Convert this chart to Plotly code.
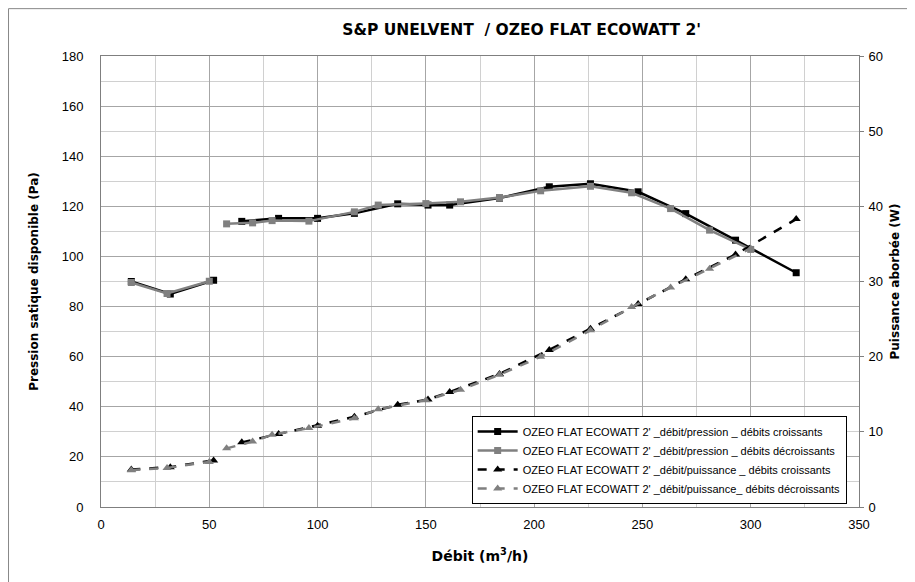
import plotly.graph_objects as go

# Débits croissants
debit_crois = [14, 32, 52, 58, 65, 82, 100, 117, 137, 151, 161, 184, 207, 226, 248, 270, 293, 321]
pression_crois = [90, 85, 90.5, None, 114, 115.2, 115.2, 117.2, 121, 120.5, 120.5, 123.3, 127.8,
                  129, 125.8, 117.1, 106.5, 93.5]
puissance_crois = [5.0, 5.3, 6.2, None, 8.6, 9.7, 10.8, 12.0, 13.6, 14.3, 15.3, 17.7, 20.9,
                   23.7, 27.0, 30.3, 33.6, 38.3]

# Débits décroissants
debit_decrois = [14, 30.5, 50, 54, 58, 70, 79, 96, 117, 128, 150, 166, 184, 203, 226, 245, 263, 281, 300]
pression_decrois = [89.6, 85.2, 90.1, None, 113.0, 113.4, 114.3, 114.1, 117.8, 120.5, 121.1, 121.8,
                    123.5, 126.2, 128.0, 125.4, 119.1, 110.5, 102.8]
puissance_decrois = [4.9, 5.2, 6.0, None, 7.8, 8.7, 9.6, 10.5, 11.8, 13.0, 14.2, 15.6, 17.6,
                     20.0, 23.5, 26.6, 29.2, 31.7, 34.4]

noms = ["OZEO FLAT ECOWATT 2' _débit/pression _ débits croissants",
        "OZEO FLAT ECOWATT 2' _débit/pression _ débits décroissants",
        "OZEO FLAT ECOWATT 2' _débit/puissance _ débits croissants",
        "OZEO FLAT ECOWATT 2' _débit/puissance_ débits décroissants"]

black = "#000000"
gray = "#808080"
verdana = "DejaVu Sans"
calibri = "Liberation Sans"

fig = go.Figure()

fig.add_trace(go.Scatter(x=debit_crois, y=pression_crois, name=noms[0], mode="lines+markers",
                         line=dict(color=black, width=2.5),
                         marker=dict(symbol="square", size=7, color=black)))
fig.add_trace(go.Scatter(x=debit_decrois, y=pression_decrois, name=noms[1], mode="lines+markers",
                         line=dict(color=gray, width=2.5),
                         marker=dict(symbol="square", size=7, color=gray)))
fig.add_trace(go.Scatter(x=debit_crois, y=puissance_crois, name=noms[2], mode="lines+markers",
                         yaxis="y2", line=dict(color=black, width=2.5, dash="dash"),
                         marker=dict(symbol="triangle-up", size=8, color=black)))
fig.add_trace(go.Scatter(x=debit_decrois, y=puissance_decrois, name=noms[3], mode="lines+markers",
                         yaxis="y2", line=dict(color=gray, width=2.5, dash="dash"),
                         marker=dict(symbol="triangle-up", size=8, color=gray)))

# Outer chart frame (Excel style)
fig.add_shape(type="rect", xref="paper", yref="paper",
              x0=-0.122, x1=1.067, y0=-0.25, y1=1.105,
              line=dict(color="#888888", width=1), layer="below")

# The page body adds ~8px, so the figure is a bit smaller than the window
fig.update_layout(
    width=907, height=574,
    margin=dict(l=93, r=56, t=48, b=75, autoexpand=False),
    paper_bgcolor="white", plot_bgcolor="white",
    title=dict(text="<b>S&P UNELVENT  / OZEO FLAT ECOWATT 2'</b>",
               x=0.555, xref="paper", xanchor="center",
               y=0.962, yref="container", yanchor="middle",
               font=dict(family=verdana, size=15.5, color=black)),
    showlegend=True,
    legend=dict(x=0.489, y=0.202, xanchor="left", yanchor="top",
                bgcolor="white", bordercolor=black, borderwidth=1,
                font=dict(family=calibri, size=11, color=black),
                itemwidth=40, tracegroupgap=0),
)

fig.update_xaxes(range=[0, 350], dtick=50, showgrid=True, gridcolor="#a6a6a6", gridwidth=1,
                 minor=dict(dtick=25, showgrid=True, gridcolor="#d0d0d0"),
                 showline=True, linecolor="#7f7f7f", mirror=True, zeroline=False,
                 ticks="", ticklabelstandoff=5, automargin=False,
                 tickfont=dict(family=calibri, size=13, color=black),
                 title=dict(text="<b>Débit (m<sup>3</sup>/h)</b>", standoff=20,
                            font=dict(family=verdana, size=14, color=black)))

fig.update_layout(
    yaxis=dict(range=[0, 180], dtick=20, showgrid=True, gridcolor="#a6a6a6", gridwidth=1,
               minor=dict(dtick=10, showgrid=True, gridcolor="#d0d0d0"),
               showline=True, linecolor="#7f7f7f", mirror=True, zeroline=False,
               ticks="", ticklabelstandoff=14, automargin=False,
               tickfont=dict(family=calibri, size=13, color=black),
               title=dict(text="<b>Pression satique disponible (Pa)</b>", standoff=20,
                          font=dict(family=verdana, size=12, color=black))),
    yaxis2=dict(range=[0, 60], dtick=10, overlaying="y", side="right", showgrid=False,
                zeroline=False, showline=False, ticks="outside", ticklen=4, tickcolor="#7f7f7f",
                ticklabelstandoff=2, automargin=False,
                tickfont=dict(family=calibri, size=13, color=black),
                title=dict(text="<b>Puissance aborbée (W)</b>", standoff=8,
                           font=dict(family=verdana, size=12, color=black))),
)

fig.write_html("out.html")
